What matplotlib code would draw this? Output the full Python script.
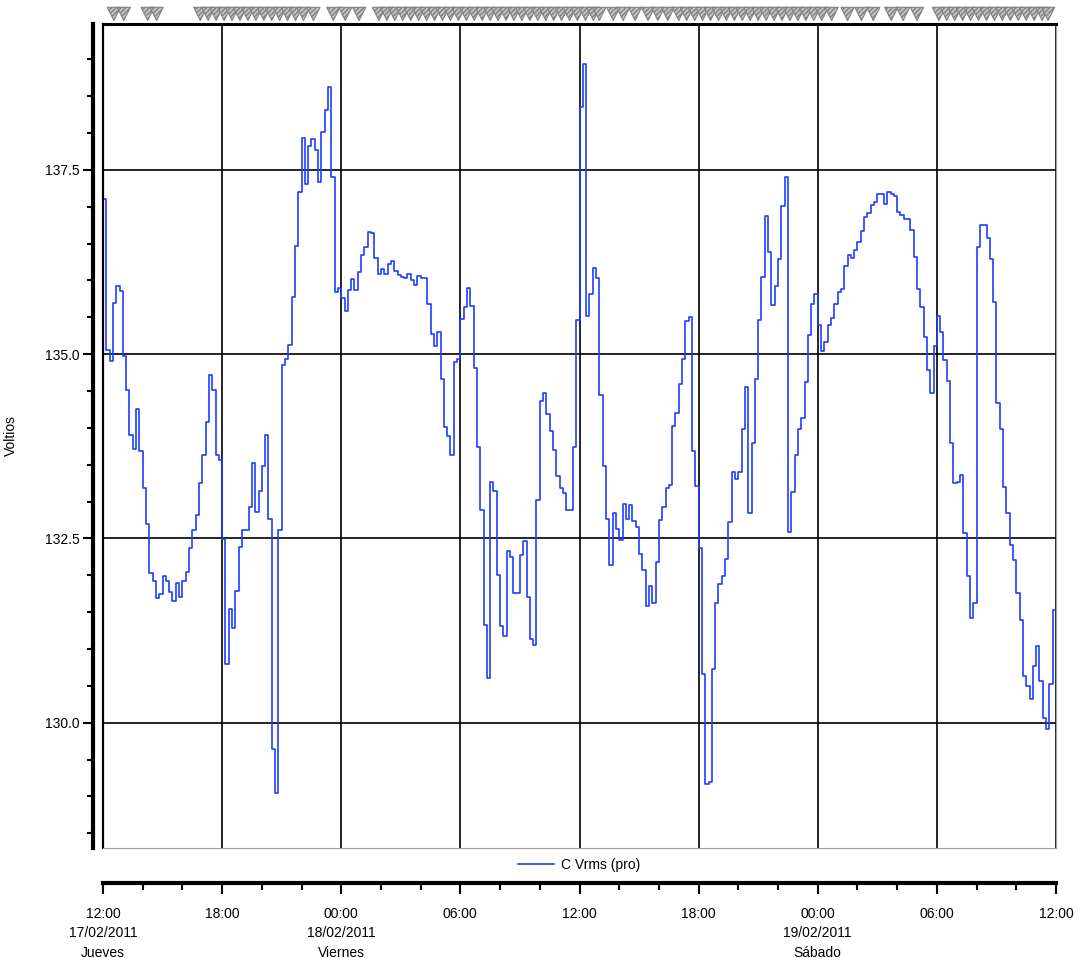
import numpy as np
import matplotlib
matplotlib.use("Agg")
import matplotlib.pyplot as plt
from matplotlib.ticker import MultipleLocator, FormatStrFormatter

plt.rcParams['font.family'] = ['Liberation Sans', 'DejaVu Sans']

# 10-minute samples of C Vrms (pro), starting 17/02/2011 12:00
vrms = [
    137.11, 135.06, 134.91, 135.70, 135.93, 135.86, 134.98, 134.51, 133.91, 133.72,
    134.26, 133.68, 133.18, 132.69, 132.03, 131.92, 131.69, 131.75, 131.99, 131.92,
    131.77, 131.65, 131.90, 131.71, 131.92, 132.05, 132.37, 132.61, 132.82, 133.25,
    133.63, 134.08, 134.72, 134.52, 133.63, 133.57, 132.49, 130.80, 131.54, 131.29,
    131.79, 132.39, 132.62, 132.62, 132.93, 133.53, 132.86, 133.14, 133.48, 133.90,
    132.77, 129.64, 129.05, 132.61, 134.85, 134.93, 135.12, 135.78, 136.47, 137.20,
    137.94, 137.31, 137.83, 137.92, 137.77, 137.33, 138.02, 138.31, 138.63, 137.41,
    135.85, 135.90, 135.76, 135.58, 135.87, 136.02, 135.87, 136.12, 136.34, 136.45,
    136.66, 136.64, 136.30, 136.09, 136.16, 136.09, 136.22, 136.27, 136.13, 136.07,
    136.05, 136.03, 136.09, 136.00, 135.94, 136.06, 136.04, 136.04, 135.68, 135.28,
    135.11, 135.30, 134.66, 134.01, 133.89, 133.63, 134.89, 134.94, 135.48, 135.64,
    135.90, 135.66, 134.81, 133.74, 132.88, 131.32, 130.60, 133.27, 133.14, 132.01,
    131.31, 131.18, 132.33, 132.25, 131.76, 131.76, 132.27, 132.46, 131.71, 131.14,
    131.05, 133.02, 134.36, 134.47, 134.19, 133.96, 133.70, 133.35, 133.19, 133.12,
    132.88, 132.88, 133.74, 135.47, 138.36, 138.94, 135.52, 135.81, 136.17, 136.04,
    134.45, 133.48, 132.77, 132.14, 132.84, 132.63, 132.48, 132.97, 132.76, 132.95,
    132.73, 132.66, 132.29, 132.07, 131.59, 131.85, 131.62, 132.18, 132.75, 132.92,
    133.18, 133.23, 134.02, 134.20, 134.59, 134.94, 135.45, 135.51, 133.69, 133.21,
    132.37, 130.66, 129.17, 129.20, 130.73, 131.62, 131.88, 131.99, 132.22, 132.72,
    133.40, 133.31, 133.40, 133.98, 134.55, 132.84, 133.80, 134.66, 135.47, 136.05,
    136.88, 136.39, 135.67, 135.92, 136.29, 137.01, 137.40, 132.59, 133.13, 133.63,
    133.98, 134.13, 134.62, 135.26, 135.68, 135.82, 135.39, 135.04, 135.17, 135.39,
    135.49, 135.68, 135.84, 135.88, 136.20, 136.34, 136.30, 136.41, 136.52, 136.67,
    136.86, 136.91, 137.03, 137.06, 137.18, 137.18, 137.04, 137.20, 137.17, 137.15,
    136.93, 136.89, 136.84, 136.84, 136.68, 136.32, 135.88, 135.64, 135.23, 134.79,
    134.47, 135.11, 135.52, 135.30, 134.92, 134.64, 133.80, 133.25, 133.27, 133.36,
    132.57, 131.99, 131.42, 131.62, 136.46, 136.75, 136.75, 136.57, 136.29, 135.71,
    134.34, 133.99, 133.20, 132.84, 132.41, 132.21, 131.76, 131.40, 130.64, 130.50,
    130.32, 130.77, 131.04, 130.57, 130.06, 129.92, 130.53, 131.53,
]

# event marks along the top (hours from 17/02 12:00)
events = [
    0.55, 1.05, 2.25, 2.7,
    4.9, 5.3, 5.7, 6.1, 6.5, 6.9, 7.3, 7.7, 8.1, 8.5, 8.9, 9.3, 9.7, 10.1, 10.6,
    11.6, 12.2, 12.9,
    13.9, 14.3, 14.7, 15.1, 15.5, 15.9, 16.3, 16.7, 17.1, 17.5, 17.9, 18.3, 18.7,
    19.1, 19.5, 19.9, 20.3, 20.7, 21.1, 21.5, 21.9, 22.3, 22.7, 23.1, 23.5, 23.9,
    24.3, 24.7, 25.0,
    25.7, 26.2, 26.8, 27.45, 27.95, 28.45,
    29.0, 29.4, 29.8, 30.2, 30.6, 31.0, 31.4, 31.8, 32.2, 32.6, 33.0, 33.4, 33.8,
    34.2, 34.6, 35.0, 35.4, 35.8, 36.2, 36.7,
    37.5, 38.2, 38.8, 39.7, 40.3, 41.0,
    42.1, 42.5, 42.9, 43.3, 43.7, 44.1, 44.5, 44.9, 45.3, 45.7, 46.1, 46.5, 46.9,
    47.3, 47.6,
]

tick_hours = [0, 6, 12, 18, 24, 30, 36, 42, 48]
tick_labels = ["12:00\n17/02/2011\nJueves", "18:00", "00:00\n18/02/2011\nViernes",
               "06:00", "12:00", "18:00", "00:00\n19/02/2011\nSábado", "06:00", "12:00"]

hours = np.arange(len(vrms) + 1) / 6.0
vals = vrms + [vrms[-1]]

W, H = 1078, 958
fig = plt.figure(figsize=(W / 100, H / 100), dpi=100)
L, R, T, B = 103, 1056, 24, 848
ax = fig.add_axes([L / W, 1 - B / H, (R - L) / W, (B - T) / H])

ax.step(hours, vals, where='post', color='#1f3dff', lw=1.2, label='C Vrms (pro)')
ax.set_xlim(0, 48)
ax.set_ylim(128.3, 139.48)

ax.set_xticks(tick_hours)
ax.tick_params(axis='x', length=0, labelbottom=False)
ax.yaxis.set_major_locator(MultipleLocator(2.5))
ax.yaxis.set_minor_locator(MultipleLocator(0.5))
ax.yaxis.set_major_formatter(FormatStrFormatter('%.1f'))
ax.tick_params(axis='y', which='major', length=7, width=1.5, pad=3, labelsize=10)
ax.tick_params(axis='y', which='minor', length=4, width=1.5)
ax.grid(True, which='major', color='black', lw=1.2)
ax.set_axisbelow(True)

ax.spines['left'].set_position(('outward', 7))
ax.spines['left'].set_linewidth(3)
ax.spines['top'].set_linewidth(2.2)
ax.spines['right'].set_color('#a0a0a0')
ax.spines['bottom'].set_color('#a0a0a0')
ax.axvline(0, color='black', lw=1.6, clip_on=False)
ax.set_ylabel('Voltios', fontsize=10)
ax.yaxis.set_label_coords(-0.089, 0.5)

# separate time axis below the legend
ax2 = fig.add_axes([L / W, 1 - 883 / H, (R - L) / W, 0.0005])
ax2.set_xlim(0, 48)
ax2.set_yticks([])
for s in ['left', 'right', 'top']:
    ax2.spines[s].set_visible(False)
ax2.spines['bottom'].set_linewidth(3)
ax2.set_xticks(tick_hours)
ax2.set_xticklabels(tick_labels, fontsize=10, linespacing=1.5, va='top')
ax2.xaxis.set_minor_locator(MultipleLocator(2))
ax2.tick_params(axis='x', which='major', length=8, width=1.5, pad=9)
ax2.tick_params(axis='x', which='minor', length=5, width=1.5)

# event strip on top
ax3 = fig.add_axes([L / W, 1 - 22 / H, (R - L) / W, 18 / H])
ax3.set_xlim(0, 48)
ax3.set_ylim(0, 1)
ax3.axis('off')
ax3.scatter(events, [0.45] * len(events), marker='v', s=90, facecolor='#c4c4c4',
            edgecolor='#808080', linewidth=0.8, hatch='///////', clip_on=False)

fig.legend(loc='center', bbox_to_anchor=(579 / W, 1 - 865 / H), frameon=False,
           fontsize=10, handlelength=2.6, handletextpad=0.5)

fig.savefig('out.png', dpi=100)
